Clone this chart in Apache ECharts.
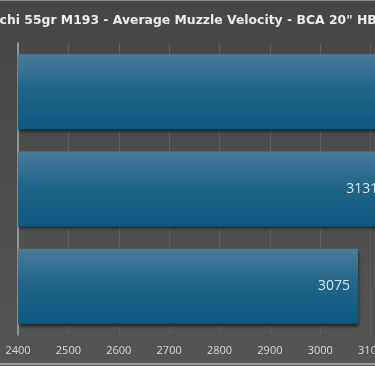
<!DOCTYPE html>
<html><head><meta charset="utf-8">
<script src="https://cdn.jsdelivr.net/npm/echarts@6/dist/echarts.min.js"></script>
<style>html,body{margin:0;padding:0;background:#4a4a4a;width:375px;height:366px;overflow:hidden;position:relative;}#c{width:440px;height:366px;}
.ln{position:absolute;left:0;width:375px;height:1px;background:#8a8a8a;}</style>
</head><body><div id="c"></div><div class="ln" style="top:0"></div><div class="ln" style="top:363px;height:2px;background:#9a9a9a"></div>
<script>
var titleText = 'Fiocchi 55gr M193 - Average Muzzle Velocity - BCA 20" HBAR';
var categories = ['Load C', 'Load B', 'Load A'];
var velocities = [3075, 3131, 3188];
var xMin = 2400, xMax = 3200, xStep = 100;

var chart = echarts.init(document.getElementById('c'));
chart.setOption({
  backgroundColor: new echarts.graphic.LinearGradient(0,0,0,1,[{offset:0,color:'#464646'},{offset:1,color:'#545454'}]),
  animation: false,
  title: {
    text: titleText, left: -34, top: 10,
    textStyle: {color:'#ececec', fontSize:12.4, fontWeight:'bold', fontFamily:'DejaVu Sans'}
  },
  grid: {left: 18, right: 19, top: 43, bottom: 31, containLabel: false},
  xAxis: {
    type:'value', min:xMin, max:xMax, interval:xStep,
    axisLine:{show:false}, axisTick:{show:false},
    splitLine:{show:true, lineStyle:{color:'#5e5e5e', width:1}},
    axisLabel:{color:'#dcdcdc', fontSize:11, fontFamily:'Open Sans', margin:10, formatter:function(v){return String(v);}}
  },
  yAxis: {
    type:'category', data:categories,
    axisLine:{show:true, lineStyle:{color:'#a8a8a8', width:1.5}},
    axisTick:{show:false}, axisLabel:{show:false}
  },
  series: [{
    type:'bar', data:velocities, barCategoryGap:'23%',
    itemStyle:{
      color:new echarts.graphic.LinearGradient(0,0,0,1,[{offset:0,color:'#4b7b9a'},{offset:0.45,color:'#1f6689'},{offset:1,color:'#0d5a80'}]),
      shadowColor:'rgba(0,0,0,0.55)', shadowBlur:3, shadowOffsetY:3, shadowOffsetX:1
    },
    label:{show:true, position:'insideRight', distance:8, color:'#e4e4e4', fontSize:14, fontFamily:'Open Sans'}
  }]
});
</script></body></html>
